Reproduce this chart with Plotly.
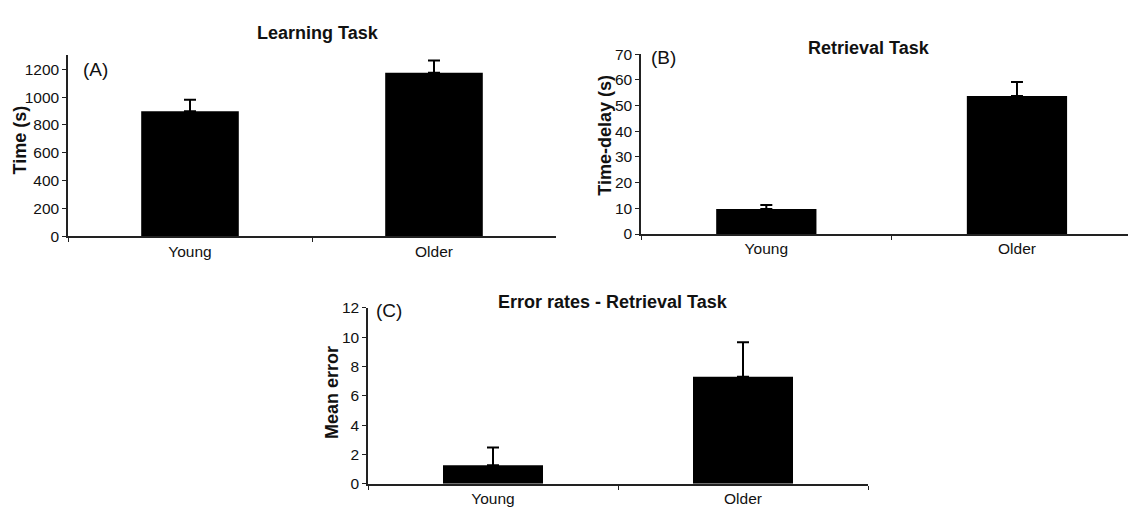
import plotly.graph_objects as go

# ---- data ----
groups = ["Young", "Older"]

learning_time = [898, 1174]
learning_err = [82, 88]

retrieval_delay = [9.7, 53.7]
retrieval_err = [1.6, 5.5]

error_rate = [1.27, 7.3]
error_rate_err = [1.2, 2.35]

panel_titles = ["Learning Task", "Retrieval Task", "Error rates - Retrieval Task"]
panel_letters = ["(A)", "(B)", "(C)"]
y_titles = ["Time (s)", "Time-delay (s)", "Mean error"]

W, H = 1129, 516
FONT = "Liberation Sans, Arial, sans-serif"


def px(x):
    return x / W


def py(y):
    return 1 - y / H


fig = go.Figure()

series = [
    (learning_time, learning_err, "x", "y"),
    (retrieval_delay, retrieval_err, "x2", "y2"),
    (error_rate, error_rate_err, "x3", "y3"),
]
for vals, errs, xa, ya in series:
    fig.add_trace(go.Bar(
        x=groups, y=vals, xaxis=xa, yaxis=ya, width=0.4,
        marker=dict(color="black", line=dict(width=0)),
        error_y=dict(type="data", array=errs, arrayminus=[0] * len(errs),
                     symmetric=False, color="black", thickness=2, width=6),
        showlegend=False,
    ))

axis_common = dict(showline=True, linecolor="#222", linewidth=1.5, showgrid=False,
                   zeroline=False, ticks="outside", ticklen=4, tickcolor="#222",
                   tickwidth=1.2, tickfont=dict(family=FONT, size=15.5, color="#111"))

fig.update_layout(
    width=W, height=H, margin=dict(l=0, r=0, t=0, b=0),
    paper_bgcolor="white", plot_bgcolor="white", bargap=0.6,
    xaxis=dict(domain=[px(68), px(556)], range=[-0.5, 1.5], type="category",
               tickson="boundaries", anchor="y", **axis_common),
    yaxis=dict(domain=[py(235), py(47.9)], range=[0, 1300], dtick=200, anchor="x",
               **axis_common),
    xaxis2=dict(domain=[px(641), px(1128)], range=[-0.5, 1.443], type="category",
                tickson="boundaries", anchor="y2", **axis_common),
    yaxis2=dict(domain=[py(232.7), py(46.7)], range=[0, 70], dtick=10, anchor="x2",
                **axis_common),
    xaxis3=dict(domain=[px(368), px(868)], range=[-0.5, 1.5], type="category",
                tickson="boundaries", anchor="y3", **axis_common),
    yaxis3=dict(domain=[py(491), py(309)], range=[0, 12], dtick=2, anchor="x3",
                **axis_common),
)

title_pos = [(318, 25), (869, 40), (613, 303)]
letter_pos = [(95.5, 63), (663, 50), (389.5, 312)]
ytitle_pos = [(20, 136), (605, 131), (332, 397)]

for i in range(3):
    tx, ty = title_pos[i]
    fig.add_annotation(x=px(tx), y=py(ty), xref="paper", yref="paper",
                       text="<b>%s</b>" % panel_titles[i], showarrow=False,
                       xanchor="center", yanchor="middle",
                       font=dict(family=FONT, size=18, color="#111"))
    lx, ly = letter_pos[i]
    fig.add_annotation(x=px(lx), y=py(ly), xref="paper", yref="paper",
                       text=panel_letters[i], showarrow=False,
                       xanchor="center", yanchor="middle",
                       font=dict(family=FONT, size=19, color="#111"))
    yx, yy = ytitle_pos[i]
    fig.add_annotation(x=px(yx), y=py(yy), xref="paper", yref="paper",
                       text="<b>%s</b>" % y_titles[i], showarrow=False, textangle=-90,
                       xanchor="center", yanchor="middle",
                       font=dict(family=FONT, size=18, color="#111"))

fig.write_html("out.html", config={"displayModeBar": False},
               post_script="document.body.style.margin='0';")
